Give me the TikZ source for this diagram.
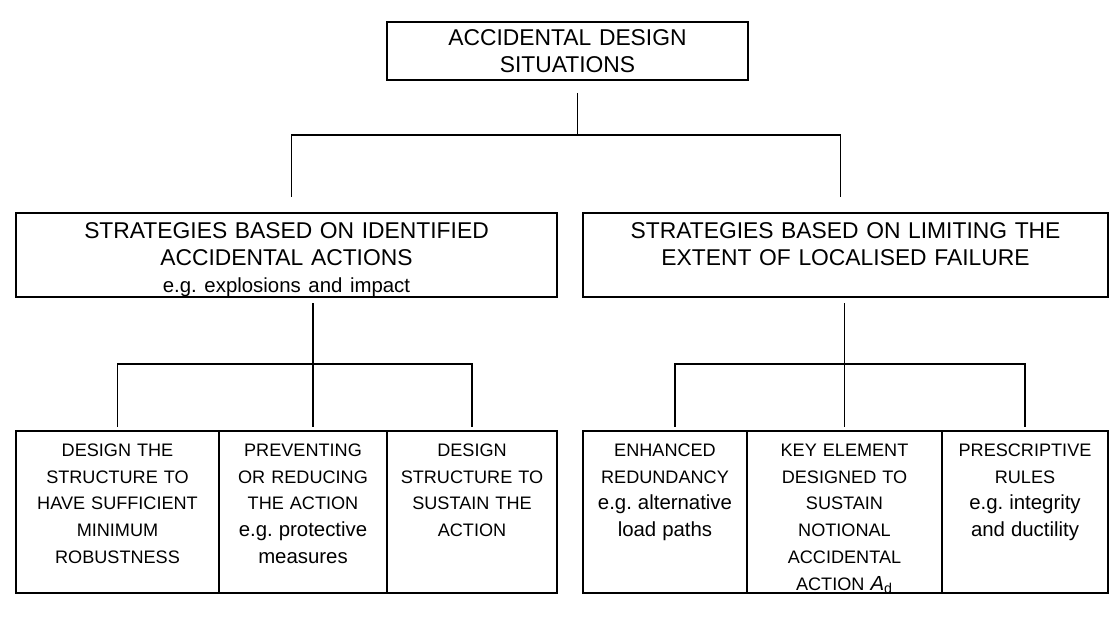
\documentclass[tikz,border=0pt]{standalone}
\usepackage{fontspec}
\setmainfont{Liberation Sans}
\usetikzlibrary{positioning}
\frenchspacing
\newcommand{\egtext}[1]{{\fontsize{11.6}{15.2}\selectfont #1}}

\begin{document}
\begin{tikzpicture}[line width=1.1pt,
        box/.style={draw, line width=1.3pt, inner sep=0pt, outer sep=0pt, align=center, anchor=north west},
        strat/.style={box, text width=#1, text height=0.505cm, text depth=1.175cm, font=\fontsize{13}{15.4}\selectfont},
        cell/.style={box, text width=#1, text height=0.51cm, text depth=2.73cm, font=\fontsize{10.3}{15.2}\selectfont}]
    \useasboundingbox (0,0) rectangle (22.2,12.48);
    \node[box, text width=7.22cm, text height=0.475cm, text depth=0.685cm, font=\fontsize{13}{15}\selectfont] (sit) at (7.74,12.04) {ACCIDENTAL DESIGN\\SITUATIONS};

    \node[strat=10.82cm] (ident) at (0.32,8.22) {STRATEGIES BASED ON IDENTIFIED\\ACCIDENTAL ACTIONS\\\egtext{e.g. explosions and impact}};
    \node[strat=10.5cm] (limit) at (11.66,8.22) {STRATEGIES BASED ON LIMITING THE\\EXTENT OF LOCALISED FAILURE};

    \node[cell=4.06cm] (robust) at (0.32,3.86) {DESIGN THE\\STRUCTURE TO\\HAVE SUFFICIENT\\MINIMUM\\ROBUSTNESS};
    \node[cell=3.36cm, right=0pt of robust] (prevent) {PREVENTING\\OR REDUCING\\THE ACTION\\\egtext{e.g. protective}\\\egtext{measures}};
    \node[cell=3.4cm, right=0pt of prevent] (sustain) {DESIGN\\STRUCTURE TO\\SUSTAIN THE\\ACTION};

    \node[cell=3.28cm] (redund) at (11.66,3.86) {ENHANCED\\REDUNDANCY\\\egtext{e.g. alternative}\\\egtext{load paths}};
    \node[cell=3.9cm, right=0pt of redund] (keyel) {KEY ELEMENT\\DESIGNED TO\\SUSTAIN\\NOTIONAL\\ACCIDENTAL\\ACTION \egtext{\textit{A}\textsubscript{d}}};
    \node[cell=3.32cm, right=0pt of keyel] (rules) {PRESCRIPTIVE\\RULES\\\egtext{e.g. integrity}\\\egtext{and ductility}};

    \draw ([xshift=2mm,yshift=-2.6mm]sit.south) -- ++(0,-0.84);
    \draw ([xshift=1mm,yshift=3.2mm]ident.north) -- ++(0,1.24) -| ([xshift=-1mm,yshift=3.2mm]limit.north);
    \draw ([xshift=2mm,yshift=0.8mm]prevent.north) -- ++(0,2.48);
    \draw ([yshift=0.8mm]robust.north) -- ++(0,1.26) -| ([yshift=0.8mm]sustain.north);
    \draw ([yshift=0.8mm]keyel.north) -- ++(0,2.48);
    \draw ([xshift=2mm,yshift=0.8mm]redund.north) -- ++(0,1.26) -| ([yshift=0.8mm]rules.north);
\end{tikzpicture}
\end{document}
